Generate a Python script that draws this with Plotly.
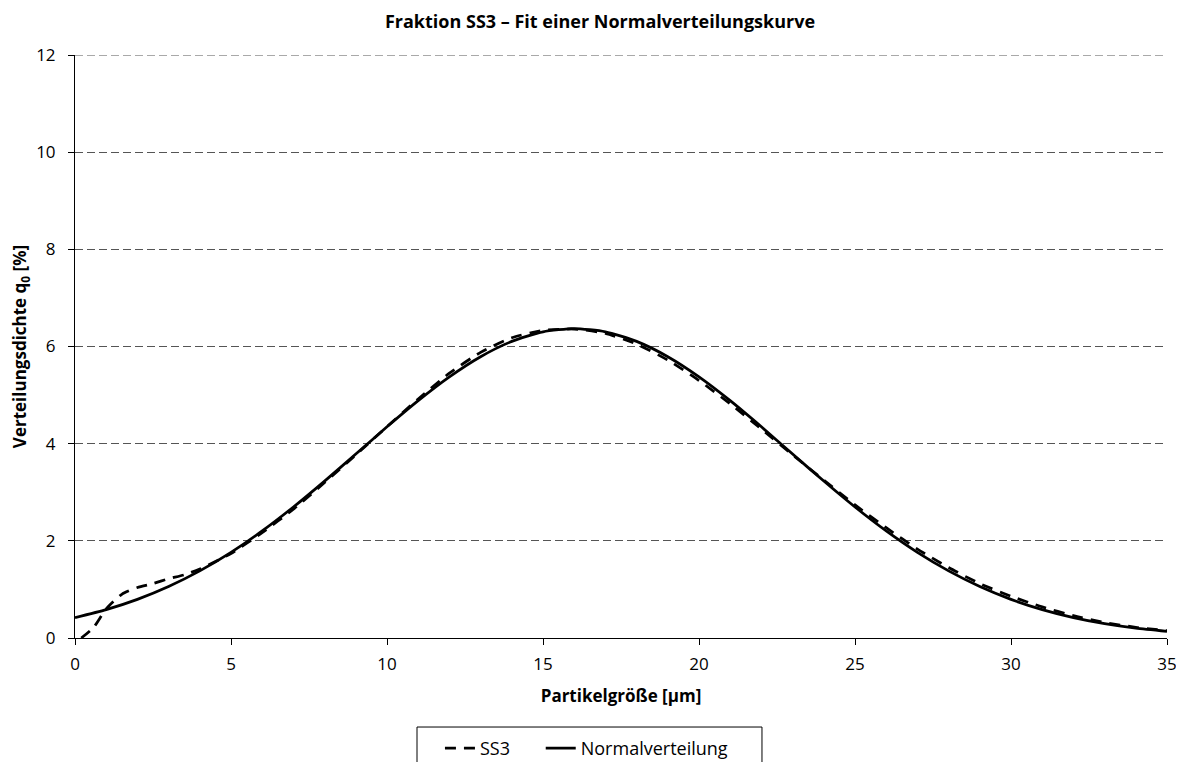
import plotly.graph_objects as go

ss3_x = [0.2, 0.6, 1.0, 1.5, 2.0, 2.5, 3.0, 3.5, 4.0, 5, 6, 7, 8, 9, 10, 11, 12, 13, 14, 15, 16, 17,
         18, 19, 20, 21, 22, 23, 24, 25, 26, 27, 28, 29, 30, 31, 32, 33, 34, 35]
ss3_y = [0.0, 0.22, 0.6, 0.9, 1.04, 1.12, 1.22, 1.3, 1.42, 1.74, 2.17, 2.65, 3.2, 3.77, 4.35, 4.92,
         5.45, 5.88, 6.18, 6.33, 6.36, 6.27, 6.05, 5.72, 5.3, 4.82, 4.3, 3.77, 3.25, 2.74, 2.27,
         1.83, 1.45, 1.12, 0.86, 0.64, 0.46, 0.32, 0.22, 0.15]

# Fitted normal curve
nv_x = list(range(0, 36))
nv_y = [0.42, 0.584, 0.795, 1.059, 1.381, 1.762, 2.203, 2.696, 3.23, 3.786, 4.347, 4.885, 5.375,
        5.79, 6.105, 6.302, 6.37, 6.302, 6.105, 5.79, 5.375, 4.885, 4.347, 3.786, 3.23, 2.696,
        2.203, 1.762, 1.381, 1.059, 0.795, 0.584, 0.42, 0.296, 0.204, 0.138]

x_ticks = [0, 5, 10, 15, 20, 25, 30, 35]
y_ticks = [0, 2, 4, 6, 8, 10, 12]
y_top = 12

FONT = "Open Sans"
GRID = "#555555"
GRID_DASH = "8px,4px"

fig = go.Figure()
fig.add_trace(go.Scatter(x=ss3_x, y=ss3_y, mode="lines", name="SS3", legend="legend",
                         line=dict(color="black", width=2.75, dash="11px,8px", shape="spline", smoothing=0.6)))
fig.add_trace(go.Scatter(x=nv_x, y=nv_y, mode="lines", name="Normalverteilung", legend="legend2",
                         line=dict(color="black", width=2.75, shape="spline", smoothing=0.6)))

# top gridline (plotly hides the gridline at the range end)
fig.add_shape(type="line", xref="paper", x0=0, x1=1, yref="y", y0=y_top, y1=y_top,
              line=dict(color=GRID, width=1, dash=GRID_DASH), layer="below")
# legend frame
fig.add_shape(type="rect", xref="paper", yref="paper", x0=0.3132, x1=0.6291, y0=-0.1527, y1=-0.235,
              line=dict(color="black", width=1), fillcolor="rgba(0,0,0,0)")

leg_common = dict(orientation="h", y=-0.1575, yanchor="top", xanchor="left",
                  borderwidth=0, bgcolor="rgba(0,0,0,0)", font=dict(family=FONT, size=18))

fig.update_layout(
    width=1184, height=762,
    paper_bgcolor="white", plot_bgcolor="white",
    margin=dict(l=67, r=25, t=47, b=132, autoexpand=False),
    font=dict(family=FONT, size=17, color="black"),
    title=dict(text="<b>Fraktion SS3 – Fit einer Normalverteilungskurve</b>",
               x=0.5, xanchor="center", xref="container", yref="container", y=1 - 14 / 762, yanchor="middle",
               font=dict(family=FONT, size=18, color="black")),
    xaxis=dict(range=[0, 35], tickvals=x_ticks, ticks="outside", ticklen=6, tickcolor="black",
               showline=True, linecolor="black", linewidth=1, showgrid=False, zeroline=False,
               automargin=False, ticklabelstandoff=5,
               title=dict(text="<b>Partikelgröße [µm]</b>", standoff=15,
                          font=dict(family=FONT, size=17)),
               tickfont=dict(family=FONT, size=17)),
    yaxis=dict(range=[0, 12], tickvals=y_ticks, ticks="outside", ticklen=6, tickcolor="black",
               showline=True, linecolor="black", linewidth=1, showgrid=True,
               gridcolor=GRID, gridwidth=1, griddash=GRID_DASH, zeroline=False,
               automargin=False, ticklabelstandoff=9,
               title=dict(text="<b>Verteilungsdichte q<sub>0</sub> [%]</b>", standoff=7,
                          font=dict(family=FONT, size=17)),
               tickfont=dict(family=FONT, size=17)),
    legend=dict(x=0.3342, **leg_common),
    legend2=dict(x=0.4265, **leg_common),
    showlegend=True,
)

fig.write_html("out.html")
